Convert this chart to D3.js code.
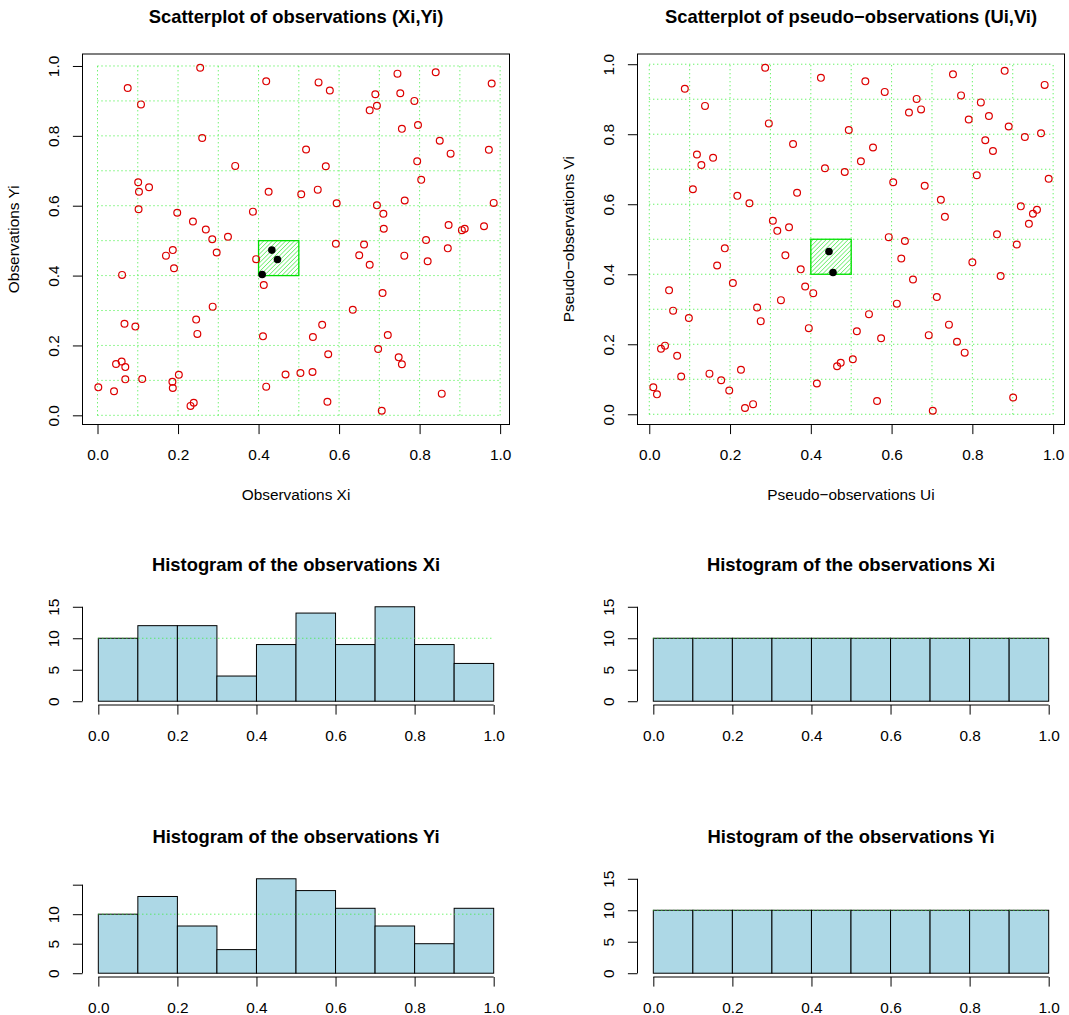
<!DOCTYPE html>
<html><head><meta charset="utf-8">
<script src="https://cdn.jsdelivr.net/npm/d3@7"></script>
<style>body{margin:0;background:#fff} text{font-family:"Liberation Sans",Arial,Helvetica,sans-serif;fill:#000}</style>
</head><body><script>
// ---------- data ----------
const obsX=[0.255,0.075,0.419,0.108,0.260,0.342,0.101,0.128,0.103,0.425,0.506,0.102,0.198,0.386,0.237,0.269,0.285,0.324,
0.187,0.170,0.296,0.190,0.394,0.433,0.447,0.409,0.061,0.413,0.286,0.245,0.067,0.094,0.248,0.411,0.060,0.046,0.069,0.202,
0.467,0.504,0.069,0.111,0.186,0.187,0.002,0.041,0.419,0.239,0.231,0.518,0.549,0.577,0.745,0.840,0.979,0.690,0.752,0.787,
0.694,0.676,0.796,0.756,0.850,0.877,0.972,0.567,0.794,0.804,0.547,0.594,0.694,0.763,0.984,0.710,0.711,0.872,0.905,0.912,
0.960,0.816,0.592,0.662,0.870,0.650,0.762,0.676,0.820,0.708,0.634,0.558,0.535,0.721,0.697,0.573,0.748,0.756,0.534,0.855,
0.571,0.706];
const obsY=[0.995,0.937,0.956,0.890,0.794,0.714,0.667,0.653,0.640,0.640,0.633,0.590,0.580,0.583,0.555,0.532,0.504,0.511,
0.473,0.457,0.466,0.421,0.447,0.473,0.446,0.403,0.402,0.373,0.311,0.274,0.262,0.254,0.233,0.226,0.154,0.147,0.138,0.116,
0.117,0.121,0.103,0.104,0.096,0.078,0.080,0.069,0.082,0.036,0.027,0.761,0.953,0.930,0.978,0.982,0.950,0.919,0.922,0.900,
0.886,0.873,0.831,0.820,0.786,0.749,0.760,0.713,0.727,0.674,0.646,0.607,0.601,0.615,0.608,0.577,0.534,0.545,0.530,0.534,
0.541,0.502,0.491,0.489,0.478,0.458,0.457,0.431,0.441,0.350,0.302,0.259,0.224,0.230,0.190,0.175,0.166,0.146,0.124,0.062,
0.039,0.013];
const pseudoU=[0.287,0.425,0.088,0.138,0.296,0.494,0.356,0.118,0.158,0.129,0.435,0.484,0.108,0.218,0.366,0.248,0.306,0.346,0.317,
0.187,0.337,0.168,0.375,0.445,0.455,0.207,0.386,0.406,0.049,0.326,0.059,0.267,0.098,0.276,0.395,0.029,0.039,0.069,0.465,
0.474,0.079,0.149,0.178,0.227,0.198,0.010,0.019,0.415,0.257,0.237,
0.535,0.583,0.752,0.880,0.979,0.662,0.772,0.643,0.673,0.821,0.791,0.841,0.890,0.930,0.970,0.832,0.851,0.554,0.524,0.811,
0.604,0.682,0.989,0.722,0.920,0.960,0.950,0.732,0.940,0.861,0.593,0.633,
0.910,0.624,0.800,0.870,0.653,0.712,0.613,0.544,0.742,0.514,0.574,0.692,0.762,0.781,0.504,0.564,0.901,0.702];
const pseudoV=[0.990,0.961,0.930,0.881,0.831,0.812,0.772,0.742,0.733,0.712,0.703,0.692,0.643,0.624,0.633,0.603,0.553,0.534,0.524,
0.474,0.454,0.425,0.414,0.465,0.405,0.375,0.365,0.346,0.354,0.326,0.296,0.305,0.275,0.266,0.246,0.187,0.196,0.167,0.137,
0.147,0.108,0.116,0.097,0.127,0.068,0.077,0.057,0.088,0.029,0.018,
0.951,0.921,0.971,0.981,0.941,0.901,0.911,0.862,0.871,0.891,0.842,0.852,0.822,0.792,0.803,0.783,0.752,0.762,0.723,0.683,
0.663,0.653,0.673,0.613,0.594,0.584,0.573,0.564,0.544,0.514,0.506,0.495,
0.485,0.445,0.434,0.395,0.385,0.335,0.316,0.286,0.256,0.237,0.217,0.226,0.207,0.176,0.157,0.038,0.048,0.010];

const histBreaks=[0,0.1,0.2,0.3,0.4,0.5,0.6,0.7,0.8,0.9,1.0];
const countsX=[10,12,12,4,9,14,9,15,9,6];
const countsY=[10,13,8,4,16,14,11,8,5,11];
const countsU=[10,10,10,10,10,10,10,10,10,10];
const countsV=[10,10,10,10,10,10,10,10,10,10];

const axisTicks=[0,0.2,0.4,0.6,0.8,1.0];
const gridLines=[0,0.1,0.2,0.3,0.4,0.5,0.6,0.7,0.8,0.9,1.0];
const histYTicks=[0,5,10,15];
const histYLabelsAll=[0,5,10,15];
const histYLabelsYi=[0,5,10];
const highlightLo=0.4, highlightHi=0.5;
const refLine=10;

// ---------- drawing ----------
const W=1069,H=1015, FS=15.4, TFS=18.4, TICK=9.6;
const svg=d3.select("body").append("svg").attr("width",W).attr("height",H);
svg.append("rect").attr("width",W).attr("height",H).attr("fill","#fff");
const defs=svg.append("defs");
const pat=defs.append("pattern").attr("id","hatch").attr("patternUnits","userSpaceOnUse")
  .attr("width",3.1).attr("height",3.1).attr("patternTransform","rotate(45)");
pat.append("line").attr("x1",0).attr("y1",0).attr("x2",0).attr("y2",3.1).attr("stroke","#00e000").attr("stroke-width",0.9);

const ext4=a=>{const [lo,hi]=d3.extent(a);const d=(hi-lo)*0.04;return [lo-d,hi+d];};
const fmt=d3.format(".1f");

function xAxis(g,x,yPix,ticks,fmtFn){
  const a=g.append("g").attr("transform",`translate(0,${yPix})`)
    .call(d3.axisBottom(x).tickValues(ticks).tickSize(TICK).tickFormat(fmtFn));
  a.select(".domain").remove();
  a.selectAll(".tick line").attr("stroke","#000");
  a.selectAll("text").attr("y",35.5).attr("dy",0).attr("font-size",FS).attr("fill","#000");
  g.append("line").attr("x1",x(ticks[0])).attr("x2",x(ticks[ticks.length-1])).attr("y1",yPix).attr("y2",yPix).attr("stroke","#000");
}
function yAxis(g,y,xPix,ticks,labelled,fmtFn){
  const a=g.append("g").attr("transform",`translate(${xPix},0)`)
    .call(d3.axisLeft(y).tickValues(ticks).tickSize(TICK).tickFormat(d=>labelled.includes(d)?fmtFn(d):""));
  a.select(".domain").remove();
  a.selectAll(".tick line").attr("stroke","#000");
  a.selectAll("text").attr("x",0).attr("dy",0).attr("text-anchor","middle")
    .attr("transform","translate(-23.5,0) rotate(-90)").attr("font-size",FS).attr("fill","#000");
  g.append("line").attr("x1",xPix).attr("x2",xPix).attr("y1",y(ticks[0])).attr("y2",y(ticks[ticks.length-1])).attr("stroke","#000");
}

function scatter(xs,ys,box,title,xlab,ylab){
  const g=svg.append("g");
  const x=d3.scaleLinear().domain(ext4(xs)).range([box.l,box.r]);
  const y=d3.scaleLinear().domain(ext4(ys)).range([box.b,box.t]);
  const cx=(box.l+box.r)/2;
  g.append("text").attr("x",cx).attr("y",box.t-38+6.6).attr("text-anchor","middle")
    .attr("font-size",TFS).attr("font-weight","bold").text(title);
  // grid
  g.selectAll(".gv").data(gridLines).join("line").attr("x1",d=>x(d)).attr("x2",d=>x(d))
    .attr("y1",y(0)).attr("y2",y(1)).attr("stroke","#33ee33").attr("stroke-dasharray","1,3");
  g.selectAll(".gh").data(gridLines).join("line").attr("class","gh").attr("y1",d=>y(d)).attr("y2",d=>y(d))
    .attr("x1",x(0)).attr("x2",x(1)).attr("stroke","#33ee33").attr("stroke-dasharray","1,3");
  // highlighted square
  g.append("rect").attr("x",x(highlightLo)).attr("y",y(highlightHi))
    .attr("width",x(highlightHi)-x(highlightLo)).attr("height",y(highlightLo)-y(highlightHi))
    .attr("fill","url(#hatch)").attr("stroke","#00e000").attr("stroke-width",1.3);
  const pts=xs.map((v,i)=>({x:v,y:ys[i],hi:v>highlightLo&&v<=highlightHi&&ys[i]>highlightLo&&ys[i]<=highlightHi}));
  g.selectAll(".p").data(pts.filter(p=>!p.hi)).join("circle").attr("cx",d=>x(d.x)).attr("cy",d=>y(d.y))
    .attr("r",3.4).attr("fill","none").attr("stroke","#dd0000").attr("stroke-width",1.2);
  g.selectAll(".q").data(pts.filter(p=>p.hi)).join("circle").attr("cx",d=>x(d.x)).attr("cy",d=>y(d.y))
    .attr("r",3.8).attr("fill","#000");
  g.append("rect").attr("x",box.l).attr("y",box.t).attr("width",box.r-box.l).attr("height",box.b-box.t)
    .attr("fill","none").attr("stroke","#000");
  xAxis(g,x,box.b,axisTicks,fmt);
  yAxis(g,y,box.l,axisTicks,axisTicks,fmt);
  g.append("text").attr("x",cx).attr("y",box.b+75.2).attr("text-anchor","middle").attr("font-size",FS).text(xlab);
  const cy=(box.t+box.b)/2;
  g.append("text").attr("transform",`translate(${box.l-69+5.5},${cy}) rotate(-90)`).attr("text-anchor","middle")
    .attr("font-size",FS).text(ylab);
}

function histogram(counts,box,yMax,labelled,title){
  const g=svg.append("g");
  const x=d3.scaleLinear().domain(ext4([histBreaks[0],histBreaks[histBreaks.length-1]])).range([box.l,box.r]);
  const y=d3.scaleLinear().domain(ext4([0,yMax])).range([box.b,box.t]);
  g.append("text").attr("x",(box.l+box.r)/2).attr("y",box.t-39+6.6).attr("text-anchor","middle")
    .attr("font-size",TFS).attr("font-weight","bold").text(title);
  const bins=counts.map((c,i)=>({x0:histBreaks[i],x1:histBreaks[i+1],c}));
  g.selectAll(".bar").data(bins).join("rect").attr("x",d=>x(d.x0)).attr("width",d=>x(d.x1)-x(d.x0))
    .attr("y",d=>y(d.c)).attr("height",d=>y(0)-y(d.c)).attr("fill","#ADD8E6").attr("stroke","#000");
  g.append("line").attr("x1",x(0)).attr("x2",x(1)).attr("y1",y(refLine)).attr("y2",y(refLine))
    .attr("stroke","#33ee33").attr("stroke-dasharray","1,3");
  xAxis(g,x,box.b,axisTicks,fmt);
  yAxis(g,y,box.l,histYTicks,labelled,d3.format("d"));
}

const L={l:82.5,r:509.5}, R={l:637.5,r:1064.5};
scatter(obsX,obsY,{...L,t:54,b:424.5},"Scatterplot of observations (Xi,Yi)","Observations Xi","Observations Yi");
scatter(pseudoU,pseudoV,{...R,t:54,b:424.5},"Scatterplot of pseudo\u2212observations (Ui,Vi)","Pseudo\u2212observations Ui","Pseudo\u2212observations Vi");
histogram(countsX,{...L,t:603,b:705},d3.max(countsX),histYLabelsAll,"Histogram of the observations Xi");
histogram(countsU,{...R,t:603,b:705},15,histYLabelsAll,"Histogram of the observations Xi");
histogram(countsY,{...L,t:875,b:977},d3.max(countsY),histYLabelsYi,"Histogram of the observations Yi");
histogram(countsV,{...R,t:875,b:977},15,histYLabelsAll,"Histogram of the observations Yi");
</script></body></html>
